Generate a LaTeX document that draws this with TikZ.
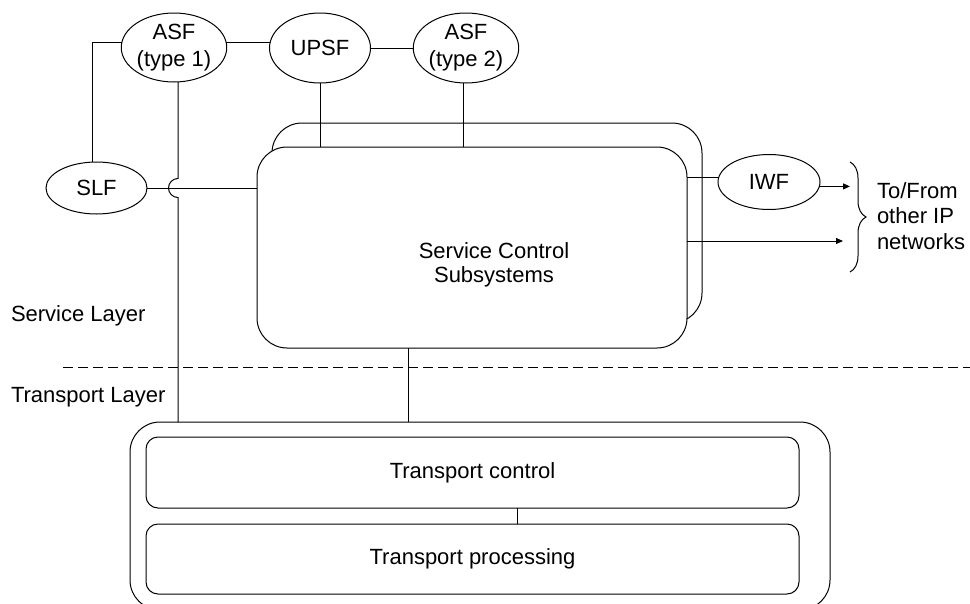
\documentclass[tikz,border=0pt]{standalone}
\usepackage{fontspec}
\setmainfont{Liberation Sans}
\usetikzlibrary{arrows.meta,decorations.pathreplacing,shapes.geometric}
\begin{document}
\begin{tikzpicture}[x=1pt,y=-1pt, line width=1pt,
  every node/.style={font=\fontsize{22}{27}\selectfont, inner sep=0pt, outer sep=0pt},
  fn/.style={draw, ellipse, fill=white, align=center},
  bigbox/.style={draw, fill=white, rounded corners=30pt},
  subbox/.style={draw, fill=white, rounded corners=12pt},
  arr/.style={-{Triangle[length=7pt,width=6pt]}},
  ]
\useasboundingbox (0,0) rectangle (970,603);

% function ellipses
\node[fn, minimum width=103pt, minimum height=69pt] (asf1) at (174,47.5) {ASF\\(type 1)};
\node[fn, minimum width=101pt, minimum height=70pt] (upsf) at (320,48) {UPSF};
\node[fn, minimum width=102pt, minimum height=70pt] (asf2) at (466,48) {ASF\\(type 2)};
\node[fn, minimum width=101pt, minimum height=52pt] (slf) at (96.5,188) {SLF};
\node[fn, minimum width=102pt, minimum height=55pt] (iwf) at (769,182) {IWF};

% service control subsystems (stacked boxes)
\node[bigbox, minimum width=430pt, minimum height=200pt] (back) at (487,223) {};
\node[bigbox, minimum width=430pt, minimum height=201pt] (scs) at (472,247.5) {};
\node[align=center, font=\fontsize{22}{24}\selectfont] (scslabel) at (494,265) {Service Control\\Subsystems};

% transport boxes
\node[bigbox, minimum width=700pt, minimum height=188pt] (outer) at (480,516) {};
\node[subbox, minimum width=653pt, minimum height=71pt] (tc) at (472.5,472.5) {Transport control};
\node[subbox, minimum width=653pt, minimum height=70pt] (tp) at (472.5,559) {Transport processing};

% layer labels
\node[anchor=west] (sl) at (11,316) {Service Layer};
\node[anchor=west] (tl) at (11,397) {Transport Layer};
\coordinate (d1) at (63,367);
\coordinate (d2) at (970,367);
\draw[dash pattern=on 10pt off 5pt] (d1) -- (d2);

% helper coordinates
\coordinate (k) at (92,43);
\coordinate (h1) at (178,178.5);
\coordinate (a2) at (463,0);
\coordinate (v) at (408,0);
\coordinate (w) at (517,0);
\coordinate (t1) at (850,0);
\coordinate (t2) at (843,241);

% connectors
\draw (asf1.175) -- (asf1.175 -| k) -- (slf.north -| k);
\draw (asf1.5) -- (asf1.5 -| upsf.west);
\draw (upsf.east) -- (asf2.west);
\draw (upsf.south) -- (upsf.south |- scs.north);
\draw (asf2.south -| a2) -- (a2 |- scs.north);
\draw (slf.east) -- (scs.west |- slf.east);
\draw (asf1.south -| h1) -- (h1) arc[start angle=90, end angle=270, radius=9.5pt] -- (h1 |- outer.north);
\draw (scs.east |- iwf.175) -- (iwf.175);
\draw[arr] (iwf.-5) -- (iwf.-5 -| t1);
\draw[arr] (scs.east |- t2) -- (t2);
\draw (scs.south -| v) -- (outer.north -| v);
\draw (tc.south -| w) -- (tp.north -| w);

% brace and external label
\coordinate (b1) at (850,162);
\coordinate (b2) at (850,272);
\draw[decorate, decoration={brace, amplitude=16pt}] (b1) -- (b2);
\node[anchor=west, align=left, font=\fontsize{22}{25.5}\selectfont] (ext) at (877,216) {To/From\\other IP\\networks};
\end{tikzpicture}
\end{document}
